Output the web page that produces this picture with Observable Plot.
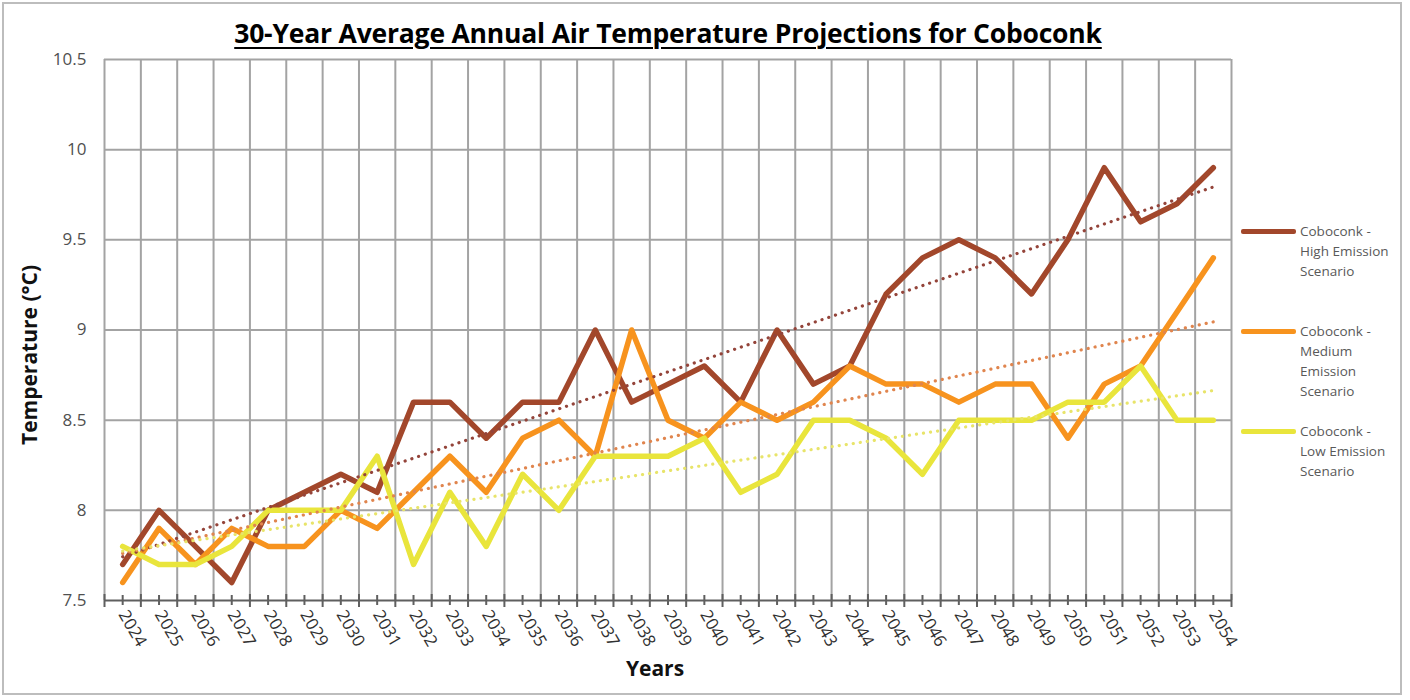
<!DOCTYPE html>
<html>
<head>
<meta charset="utf-8">
<script src="https://cdn.jsdelivr.net/npm/d3@7"></script>
<script src="https://cdn.jsdelivr.net/npm/@observablehq/plot@0.6"></script>
<style>
  html, body { margin: 0; padding: 0; background: #fff; }
  #chart { position: relative; width: 1410px; height: 700px; font-family: "Open Sans", sans-serif; }
  #frame { position: absolute; left: 2px; top: 2px; width: 1396px; height: 689px; border: 2px solid #bdbdbd; box-sizing: content-box; }
  #plot { position: absolute; left: 0; top: 0; }
  .title { position: absolute; left: 0; width: 1336px; top: 15px; text-align: center; font-weight: 700; font-size: 26.5px; line-height: 36px; letter-spacing: -0.2px; color: #000; text-decoration: underline; text-underline-offset: 4px; text-decoration-thickness: 2px; }
  .ylabel { position: absolute; left: 29px; top: 355px; transform: translate(-50%, -50%) rotate(-90deg); font-weight: 700; font-size: 21px; color: #111; white-space: nowrap; }
  .xlabel { position: absolute; left: 655px; top: 668px; transform: translate(-50%, -50%); font-weight: 700; font-size: 21px; color: #111; }
  .legend { position: absolute; left: 1241px; font-size: 13.5px; color: #595959; line-height: 20px; }
  .legend .sw { position: absolute; left: 0; top: 8px; width: 55px; height: 5px; border-radius: 2px; }
  .legend .tx { position: absolute; left: 59px; top: 0; width: 110px; white-space: nowrap; }
</style>
</head>
<body>
<div id="chart">
  <div id="frame"></div>
  <div id="plot"></div>
  <div class="title">30-Year Average Annual Air Temperature Projections for Coboconk</div>
  <div class="ylabel">Temperature (°C)</div>
  <div class="xlabel">Years</div>
  <div id="legend"></div>
</div>
<script>
// Projection years (category axis)
const years = [2024, 2025, 2026, 2027, 2028, 2029, 2030, 2031, 2032, 2033, 2034,
  2035, 2036, 2037, 2038, 2039, 2040, 2041, 2042, 2043, 2044,
  2045, 2046, 2047, 2048, 2049, 2050, 2051, 2052, 2053, 2054];

// 30-year average annual air temperature (°C) per scenario
const highEmission = [7.7, 8.0, 7.8, 7.6, 8.0, 8.1, 8.2, 8.1, 8.6, 8.6, 8.4,
  8.6, 8.6, 9.0, 8.6, 8.7, 8.8, 8.6, 9.0, 8.7, 8.8,
  9.2, 9.4, 9.5, 9.4, 9.2, 9.5, 9.9, 9.6, 9.7, 9.9];
const mediumEmission = [7.6, 7.9, 7.7, 7.9, 7.8, 7.8, 8.0, 7.9, 8.1, 8.3, 8.1,
  8.4, 8.5, 8.3, 9.0, 8.5, 8.4, 8.6, 8.5, 8.6, 8.8,
  8.7, 8.7, 8.6, 8.7, 8.7, 8.4, 8.7, 8.8, 9.1, 9.4];
const lowEmission = [7.8, 7.7, 7.7, 7.8, 8.0, 8.0, 8.0, 8.3, 7.7, 8.1, 7.8,
  8.2, 8.0, 8.3, 8.3, 8.3, 8.4, 8.1, 8.2, 8.5, 8.5,
  8.4, 8.2, 8.5, 8.5, 8.5, 8.6, 8.6, 8.8, 8.5, 8.5];

const seriesNames = [
  "Coboconk - High Emission Scenario",
  "Coboconk - Medium Emission Scenario",
  "Coboconk - Low Emission Scenario"
];
const seriesColors = ["#a2472b", "#f7931e", "#e9e53c"];
const trendColors = ["#94443a", "#e0854e", "#e8e46a"];
const legendLines = [
  ["Coboconk  -", "High Emission", "Scenario"],
  ["Coboconk  -", "Medium", "Emission", "Scenario"],
  ["Coboconk  -", "Low Emission", "Scenario"]
];

const yTicks = [7.5, 8, 8.5, 9, 9.5, 10, 10.5];

// Long-format table for the line marks
const seriesValues = [highEmission, mediumEmission, lowEmission];
const rows = seriesValues.flatMap((vals, s) =>
  years.map((year, i) => ({ year, value: vals[i], series: seriesNames[s] })));

// Category boundaries (gridlines fall between categories)
const bounds = [...years.map(y => y - 0.5), years[years.length - 1] + 0.5];

const gridColor = "#a3a3a3";
const axisColor = "#5f5f5f";

const trendMarks = seriesNames.map((name, s) =>
  Plot.linearRegressionY(rows.filter(d => d.series === name), {
    x: "year", y: "value", ci: 0,
    stroke: trendColors[s], strokeWidth: 3.2,
    strokeDasharray: "0.1,7", strokeLinecap: "round"
  }));

const chart = Plot.plot({
  width: 1410,
  height: 700,
  marginLeft: 104,
  marginRight: 179,
  marginTop: 59,
  marginBottom: 100,
  style: { fontFamily: "Open Sans, sans-serif", background: "transparent" },
  x: { domain: [bounds[0], bounds[bounds.length - 1]] },
  y: { domain: [7.5, 10.5] },
  color: { domain: seriesNames, range: seriesColors },
  marks: [
    Plot.ruleY(yTicks.filter(v => v > 7.5), { stroke: gridColor, strokeWidth: 2 }),
    Plot.ruleX(bounds, { stroke: gridColor, strokeWidth: 2 }),
    Plot.ruleY([7.5], { stroke: axisColor, strokeWidth: 2 }),
    Plot.ruleX(bounds, { y1: 7.5, y2: 7.5, insetTop: -6, insetBottom: -7, stroke: axisColor, strokeWidth: 2 }),
    Plot.ruleX(years, { y1: 7.5, y2: 7.5, insetTop: -5, insetBottom: -5, stroke: axisColor, strokeWidth: 2 }),
    Plot.axisY({
      ticks: yTicks, tickSize: 0, tickPadding: 18,
      tickFormat: d => String(d), fontSize: 17, fill: "#505050", label: null
    }),
    Plot.axisX({
      ticks: years, tickSize: 0, tickPadding: 11, tickRotate: 60,
      tickFormat: d => String(d), fontSize: 17, fill: "#303030", label: null
    }),
    Plot.line(rows, {
      x: "year", y: "value", stroke: "series", z: "series",
      strokeWidth: 5.5, strokeLinejoin: "round", strokeLinecap: "round"
    }),
    ...trendMarks
  ]
});
document.getElementById("plot").appendChild(chart);

// Legend on the right
const legendTops = [221, 321, 421];
const legend = document.getElementById("legend");
seriesNames.forEach((name, s) => {
  const item = document.createElement("div");
  item.className = "legend";
  item.style.top = legendTops[s] + "px";
  const sw = document.createElement("div");
  sw.className = "sw";
  sw.style.background = seriesColors[s];
  const tx = document.createElement("div");
  tx.className = "tx";
  tx.innerHTML = legendLines[s].join("<br>");
  item.appendChild(sw);
  item.appendChild(tx);
  legend.appendChild(item);
});
</script>
</body>
</html>
